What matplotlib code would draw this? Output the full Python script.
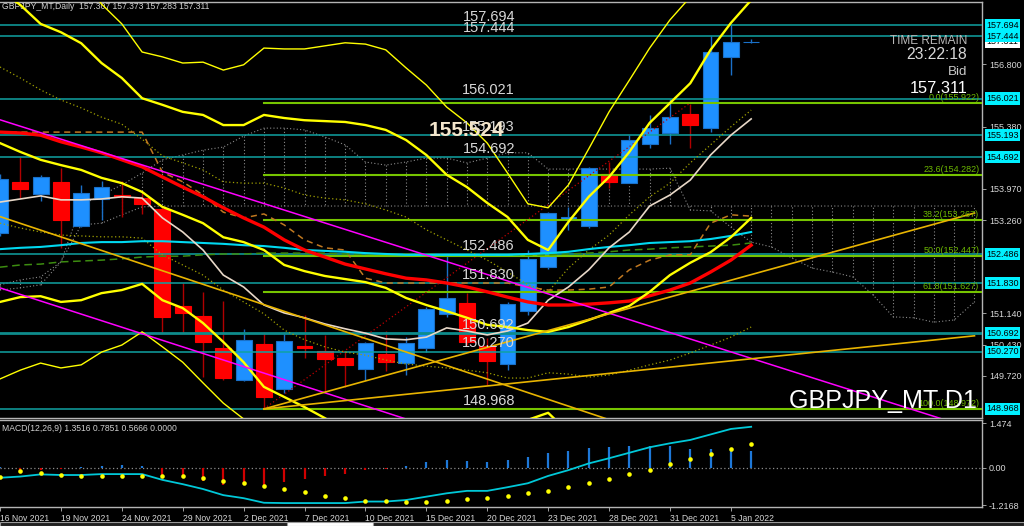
import matplotlib
matplotlib.use('Agg')
import matplotlib.pyplot as plt
from matplotlib import font_manager
from matplotlib.patches import Rectangle
import numpy as np

names = {f.name for f in font_manager.fontManager.ttflist}
HAS_NARROW = 'Liberation Sans Narrow' in names
NARROW = 'Liberation Sans Narrow' if HAS_NARROW else 'Liberation Sans'
SANS = 'Liberation Sans'
K = 1.0 if HAS_NARROW else 0.84   # shrink wide font to keep text widths

# daily bars, 16 Nov 2021 .. 6 Jan 2022
bar_dates = ['16 Nov', '17 Nov', '18 Nov', '19 Nov', '22 Nov', '23 Nov', '24 Nov', '25 Nov',
             '26 Nov', '29 Nov', '30 Nov', '1 Dec', '2 Dec', '3 Dec', '6 Dec', '7 Dec', '8 Dec',
             '9 Dec', '10 Dec', '13 Dec', '14 Dec', '15 Dec', '16 Dec', '17 Dec', '20 Dec',
             '21 Dec', '22 Dec', '23 Dec', '24 Dec', '27 Dec', '28 Dec', '29 Dec', '30 Dec',
             '31 Dec', '3 Jan', '4 Jan', '5 Jan', '6 Jan']
opens = [152.97, 154.13, 153.85, 154.13, 153.13, 153.74, 153.83, 153.76, 153.51, 151.31,
         151.08, 150.35, 149.63, 150.44, 149.42, 150.40, 150.29, 150.13, 149.88, 150.22,
         150.01, 150.35, 151.13, 151.38, 150.40, 149.99, 151.19, 152.19, 153.29, 153.13,
         154.31, 154.10, 154.99, 155.24, 155.67, 155.35, 156.97, 157.307]
highs = [154.30, 154.692, 154.29, 154.44, 154.06, 154.15, 154.15, 153.88, 153.56, 151.83,
         151.63, 151.42, 150.79, 150.72, 150.72, 151.10, 150.65, 150.29, 150.49, 150.74,
         150.60, 151.29, 152.486, 151.60, 150.58, 151.40, 152.58, 153.44, 153.56, 154.47,
         154.58, 155.193, 155.65, 156.021, 155.90, 157.444, 157.694, 157.373]
lows = [152.90, 153.76, 153.69, 152.63, 153.10, 153.26, 153.33, 153.40, 150.69, 150.692,
        149.69, 149.63, 149.60, 148.968, 149.33, 150.13, 149.35, 149.47, 149.63, 149.83,
        149.74, 150.270, 151.06, 150.42, 149.51, 149.85, 151.10, 152.15, 153.04, 153.08,
        153.99, 154.10, 154.90, 154.99, 154.90, 155.26, 156.56, 157.283]
closes = [154.19, 153.97, 154.24, 153.26, 153.88, 154.01, 153.79, 153.63, 151.06, 151.15,
          150.49, 149.67, 150.54, 149.24, 150.51, 150.35, 150.10, 149.97, 150.47, 150.04,
          150.47, 151.24, 151.49, 150.49, 150.06, 151.35, 152.38, 153.42, 153.33, 154.44,
          154.13, 155.08, 155.35, 155.60, 155.42, 157.08, 157.31, 157.311]

# indicator lines (one value per bar)
bb_up_thin = [158.83, 158.17, 157.72, 157.08, 156.97, 156.83, 156.85, 156.67, 156.79, 157.17,
              157.15, 157.15, 157.22, 157.29, 157.26, 157.13, 156.72, 156.33, 155.83, 155.47,
              155.01, 154.33, 153.63, 153.54, 154.06, 154.88, 155.72, 156.44, 157.17, 157.81,
              158.33, 159.0, 159.6, 160.2]   # from 22 Nov
bb_up = [158.49, 158.15, 157.72, 157.53, 157.28, 156.83, 156.49, 156.03, 155.88, 155.72,
         155.65, 155.42, 155.42, 155.65, 155.58, 155.53, 155.51, 155.49, 155.42, 155.31,
         155.08, 154.74, 154.29, 154.01, 153.65, 153.33, 152.81, 152.58, 153.22, 153.79,
         154.24, 154.81, 155.47, 155.92, 156.37, 157.13, 157.74, 158.26]
bb_mid = [155.01, 154.81, 154.63, 154.51, 154.40, 154.22, 154.10, 153.90, 153.56, 153.38,
          153.19, 152.87, 152.76, 152.58, 152.24, 152.10, 151.99, 151.92, 151.85, 151.72,
          151.49, 151.33, 151.19, 151.04, 150.88, 150.83, 150.76, 150.72, 150.83, 150.99,
          151.15, 151.31, 151.63, 152.01, 152.29, 152.53, 152.87, 153.31]
bb_low = [151.40, 151.51, 151.53, 151.40, 151.44, 151.60, 151.67, 151.81, 151.44, 151.26,
          150.92, 150.49, 150.03, 149.47, 149.24, 149.01, 148.76, 148.49, 148.35, 148.26,
          148.03, 147.92, 148.10, 148.15, 148.26, 148.44, 148.72, 148.88, 148.44, 148.22,
          148.03, 147.81, 147.81, 148.15, 148.15, 147.92, 147.99, 148.35]
bb_low_thin = [149.65, 149.85, 150.01, 149.90, 149.97, 150.26, 150.42, 150.72, 150.38, 150.03,
               149.56, 149.10, 148.74, 148.26, 147.90]
ma_red = [155.26, 155.24, 155.19, 155.04, 154.92, 154.79, 154.63, 154.47, 154.24, 154.01,
          153.79, 153.54, 153.31, 153.10, 152.81, 152.58, 152.42, 152.26, 152.15, 152.04,
          151.94, 151.90, 151.83, 151.74, 151.63, 151.51, 151.40, 151.33, 151.33, 151.35,
          151.38, 151.42, 151.54, 151.67, 151.83, 152.08, 152.35, 152.69]
ma_white = [153.67, 153.74, 153.81, 153.72, 153.72, 153.74, 153.79, 153.76, 153.31, 152.99,
            152.58, 152.01, 151.74, 151.33, 151.15, 151.04, 150.90, 150.79, 150.69, 150.56,
            150.54, 150.60, 150.81, 150.74, 150.65, 150.74, 150.92, 151.44, 151.74, 152.13,
            152.63, 152.99, 153.58, 153.83, 154.17, 154.74, 155.19, 155.56]
ma_cyan = [152.60, 152.63, 152.65, 152.69, 152.74, 152.76, 152.76, 152.78, 152.78, 152.76,
           152.74, 152.72, 152.69, 152.67, 152.63, 152.58, 152.56, 152.54, 152.51, 152.49,
           152.47, 152.47, 152.47, 152.47, 152.47, 152.47, 152.49, 152.51, 152.54, 152.60,
           152.65, 152.69, 152.74, 152.76, 152.78, 152.83, 152.90, 152.99]
ma_green = [152.19, 152.24, 152.26, 152.31, 152.33, 152.35, 152.38, 152.42, 152.44, 152.44,
            152.47, 152.49, 152.49, 152.51, 152.51, 152.51, 152.51, 152.49, 152.49, 152.49,
            152.49, 152.49, 152.47, 152.47, 152.47, 152.47, 152.47, 152.47, 152.49, 152.51,
            152.54, 152.58, 152.60, 152.63, 152.65, 152.67, 152.69, 152.74]
env_up = [156.74, 156.49, 156.22, 155.99, 155.81, 155.60, 155.44, 155.10, 154.72, 154.56,
          154.40, 154.13, 154.10, 154.10, 153.99, 153.83, 153.76, 153.72, 153.63, 153.49,
          153.33, 153.04, 152.81, 152.58, 152.35, 152.08, 151.79, 151.63, 152.17, 152.58,
          152.92, 153.38, 153.79, 154.10, 154.56, 154.97, 155.38, 155.76]
env_low = [153.19, 153.08, 152.99, 152.92, 152.90, 152.88, 152.88, 152.85, 152.47, 152.24,
           152.01, 151.67, 151.40, 151.13, 150.76, 150.54, 150.38, 150.26, 150.19, 150.08,
           149.99, 149.94, 149.90, 149.85, 149.79, 149.67, 149.67, 149.79, 149.76, 149.69,
           149.74, 149.85, 149.97, 150.08, 150.24, 150.42, 150.60, 150.83]
kijun = [155.26, 155.26, 155.26, 155.26, 155.26, 155.26, 155.26, 155.26, 154.35, 154.13,
         153.83, 153.44, 153.31, 153.40, 153.15, 152.81, 152.63, 152.58, 151.94, 151.83,
         151.83, 151.83, 151.83, 151.83, 151.83, 151.83, 151.74, 151.67, 151.67, 151.69,
         151.74, 152.13, 152.35, 152.47, 152.47, 153.19, 153.38, 153.35]
# ichimoku cloud (runs 11 bars past the last candle)
span_a = [151.79, 151.90, 151.97, 152.31, 153.60, 153.83, 154.06, 154.33, 154.63, 154.74,
          154.85, 154.92, 155.17, 155.35, 155.35, 155.31, 155.15, 154.97, 154.58, 154.51,
          154.58, 154.67, 154.67, 154.56, 154.67, 154.79, 154.79, 154.42, 154.42, 154.42,
          154.42, 154.42, 154.42, 154.44, 153.49, 153.47, 153.10, 152.76, 152.65, 152.40,
          152.17, 152.08, 151.97, 151.56, 151.06, 151.04, 150.94, 150.99, 151.40]
span_b = [151.67, 151.72, 151.79, 152.31, 153.15, 153.19, 153.38, 153.56] + [153.58] * 41

# MACD(12,26,9)
macd_main = [-0.32, -0.28, -0.21, -0.23, -0.23, -0.20, -0.20, -0.20, -0.39, -0.53, -0.69,
             -0.89, -0.99, -1.14, -1.15, -1.15, -1.15, -1.15, -1.10, -1.10, -1.05, -0.94,
             -0.83, -0.75, -0.75, -0.63, -0.50, -0.26, -0.07, 0.15, 0.32, 0.50, 0.68, 0.81,
             0.92, 1.10, 1.28, 1.3516]
macd_signal = [-0.30, -0.10, -0.17, -0.23, -0.25, -0.26, -0.25, -0.25, -0.25, -0.27, -0.34,
               -0.42, -0.48, -0.58, -0.69, -0.80, -0.92, -0.99, -1.07, -1.08, -1.10, -1.11,
               -1.07, -1.03, -0.97, -0.92, -0.83, -0.75, -0.62, -0.50, -0.35, -0.21, -0.07,
               0.13, 0.30, 0.47, 0.63, 0.7851]
macd_hist = [0.02, -0.16, -0.07, -0.03, 0.02, 0.06, 0.09, 0.06, -0.24, -0.33, -0.42, -0.55,
             -0.52, -0.57, -0.47, -0.35, -0.26, -0.19, -0.06, -0.03, 0.08, 0.19, 0.27, 0.24,
             0.20, 0.27, 0.36, 0.49, 0.57, 0.67, 0.69, 0.73, 0.73, 0.71, 0.62, 0.63, 0.65,
             0.5666]

# horizontal price lines, fibo levels, trendlines (bar index, price)
hline_prices = [157.694, 157.444, 156.021, 155.193, 154.692, 152.486, 151.830, 150.692,
                150.270, 148.968]
axis_prices = [156.800, 155.380, 153.970, 153.260, 151.140, 150.430, 149.720]
fib_levels = [155.922, 154.282, 153.267, 152.447, 151.627, 148.972]
fib_names = ['0.0', '23.6', '38.2', '50.0', '61.8', '100.0']
trend_magenta = [([0, 49], [155.54, 148.36]), ([0, 21], [151.72, 148.59])]
trend_gold = [([0, 31], [153.34, 148.57]), ([13, 48], [148.968, 153.42]),
              ([13, 48], [148.968, 150.63])]
fib_base = ([13, 34], [148.972, 155.922])

date_ticks = list(range(0, 38, 3))
date_labels = [d + (' 2022' if 'Jan' in d else ' 2021') for d in bar_dates[::3]]

x = np.arange(len(bar_dates))
BG = 'black'
fig = plt.figure(figsize=(10.24, 5.26), dpi=100, facecolor=BG)
ax = fig.add_axes([0, 1 - 418 / 526, 982 / 1024, 416 / 526], facecolor=BG)
ax2 = fig.add_axes([0, 1 - 507 / 526, 982 / 1024, 87 / 526], facecolor=BG, sharex=ax)

ax.set_xlim(0.064, 48.37)
ax.set_ylim(148.762, 158.217)
ax2.set_ylim(-1.279, 1.574)

# ichimoku cloud
xc = np.arange(len(span_a))
cloud_kw = dict(color='#8a8a8a', lw=0.8, ls=(0, (1, 2)), zorder=1)
ax.plot(xc, span_a, **cloud_kw)
ax.plot(xc, span_b, **cloud_kw)
ax.vlines(xc, span_a, span_b, colors='#8a8a8a', lw=0.8, linestyles=(0, (1, 2)), zorder=1)

# candles
for i in x:
    o, h, l, c = opens[i], highs[i], lows[i], closes[i]
    up = c >= o
    body = '#1e90ff' if up else '#ff0000'
    wick = '#1a70c8' if up else '#b00000'
    ax.vlines(i, l, h, colors=wick, lw=1.0, zorder=2)
    ax.add_patch(Rectangle((i - 0.39, min(o, c)), 0.78, max(abs(c - o), 0.005),
                           facecolor=body, edgecolor=wick if up else body, lw=0.8, zorder=2.5))

# horizontal lines
for p in hline_prices:
    ax.axhline(p, color='#0e8c8c' if p == 150.692 else '#10a2a2',
               lw=2.0 if p == 150.692 else 1.1, zorder=3)
    ax.annotate(f'{p:.3f}', xy=(24.07, p), xytext=(0, 1), textcoords='offset points',
                ha='center', va='bottom', color='#d8d8d8', fontsize=12.4 * K, family=NARROW,
                zorder=7)

# fibonacci
for lv, nm in zip(fib_levels, fib_names):
    ax.plot([fib_base[0][0], 50], [lv, lv], color='#76c400', lw=1.5, zorder=3)
    ax.annotate(f'{nm}({lv:.3f})', xy=(1.0, lv), xycoords=('axes fraction', 'data'),
                xytext=(-2, 0.5), textcoords='offset points', ha='right', va='bottom',
                color='#6cb800', fontsize=6.5, family=SANS, zorder=7)
ax.plot(fib_base[0], fib_base[1], color='#c00000', lw=0.9, ls=(0, (1, 2)), zorder=3)

# indicators
ax.plot(x, env_up, color='#a0a000', lw=0.9, ls=(0, (1, 2)), zorder=4)
ax.plot(x, env_low, color='#a0a000', lw=0.9, ls=(0, (1, 2)), zorder=4)
ax.plot(x, kijun, color='#c07820', lw=1.1, ls=(0, (4, 3)), zorder=4)
ax.plot(x, ma_green, color='#3c8c10', lw=1.1, ls=(0, (5, 3)), zorder=4)
ax.plot(x, ma_cyan, color='#00d8f0', lw=1.5, zorder=4)
ax.plot(x, ma_white, color='#e8d8c8', lw=1.2, zorder=4)
ax.plot(x, ma_red, color='#ff0000', lw=2.4, zorder=4)
ax.plot(np.arange(4, 38), bb_up_thin, color='#ffff00', lw=1.0, zorder=4)
ax.plot(np.arange(len(bb_low_thin)), bb_low_thin, color='#ffff00', lw=1.0, zorder=4)
ax.plot(x, bb_up, color='#ffff00', lw=1.7, zorder=4)
ax.plot(x, bb_mid, color='#ffff00', lw=1.7, zorder=4)
ax.plot(x, bb_low, color='#ffff00', lw=1.7, zorder=4)
for xs, ys in trend_magenta:
    ax.plot(xs, ys, color='#ff00ff', lw=1.1, zorder=4)
for xs, ys in trend_gold:
    ax.plot(xs, ys, color='#e8b400', lw=1.2, zorder=4)

# texts
ax.text(22.99, 155.30, '155.524', color='#f4e6cc', fontsize=15, fontweight='bold',
        family=SANS, ha='center', va='center', zorder=8)
ax.text(0.002, 0.988, 'GBPJPY_MT,Daily  157.307 157.373 157.283 157.311', transform=ax.transAxes,
        color='#d0d0d0', fontsize=6.2, family=SANS, ha='left', va='center')
ax.text(0.985, 0.906, 'TIME REMAIN', transform=ax.transAxes, color='#b8b8b8',
        fontsize=11 * K * 0.92, family=NARROW, ha='right', va='center')
ax.text(0.985, 0.873, '23:22:18', transform=ax.transAxes, color='#d8d8d8',
        fontsize=13.5 * K, family=NARROW, ha='right', va='center')
ax.text(0.985, 0.832, 'Bid', transform=ax.transAxes, color='#c8c8c8', fontsize=11.5 * K,
        family=NARROW, ha='right', va='center')
ax.text(0.985, 0.793, '157.311', transform=ax.transAxes, color='#ffffff', fontsize=14 * K,
        family=NARROW, ha='right', va='center')
ax.text(0.995, 0.041, 'GBPJPY_MT D1', transform=ax.transAxes, color='#ffffff',
        fontsize=21.5 * K, family=NARROW, ha='right', va='center', zorder=8)

# right price scale
ax.yaxis.tick_right()
ax.set_yticks(axis_prices)
ax.set_yticklabels([f'{p:.3f}' for p in axis_prices])
ax.tick_params(axis='y', colors='#a0a0a0', labelcolor='#d8d8d8', labelsize=6.5, length=3,
               width=0.7, pad=2)
for lab in ax.get_yticklabels():
    lab.set_family(SANS)
box_kw = dict(xycoords=('axes fraction', 'data'), xytext=(3, 0), textcoords='offset points',
              ha='left', va='center', fontsize=6.5, family=SANS, annotation_clip=False)
ax.annotate('157.311', xy=(1.0, 157.311), color='black',
            bbox=dict(boxstyle='square,pad=0.18', fc='white', ec='none'), **box_kw)
for p in hline_prices:
    ax.annotate(f'{p:.3f}', xy=(1.0, p), color='black',
                bbox=dict(boxstyle='square,pad=0.18', fc='#00f0ff', ec='none'), **box_kw)
ax.tick_params(axis='x', bottom=False, labelbottom=False)

# MACD panel
ax2.axhline(0, color='#8c8c8c', lw=0.9, ls=(0, (1, 2)))
ax2.vlines(x, 0, macd_hist, colors=['#1e78d8' if h > 0 else '#d00000' for h in macd_hist],
           lw=1.6)
ax2.plot(x, macd_main, color='#00c8d8', lw=1.3)
ax2.plot(x, macd_signal, 'o', color='#ffff00', ms=3.3, mec='none')
ax2.text(0.002, 0.905, 'MACD(12,26,9) 1.3516 0.7851 0.5666 0.0000', transform=ax2.transAxes,
         color='#d0d0d0', fontsize=6.2, family=SANS, ha='left', va='center')
ax2.yaxis.tick_right()
ax2.set_yticks([1.474, 0.0, -1.2168])
ax2.set_yticklabels(['1.474', '0.00', '-1.2168'])
ax2.tick_params(axis='y', colors='#a0a0a0', labelcolor='#d8d8d8', labelsize=6.5, length=3,
                width=0.7, pad=2)
ax2.set_xticks(date_ticks)
ax2.set_xticklabels(date_labels, ha='left')
ax2.tick_params(axis='x', colors='#a0a0a0', labelcolor='#d8d8d8', labelsize=6.2, length=3,
                width=0.7, pad=2)
for lab in ax2.get_xticklabels() + ax2.get_yticklabels():
    lab.set_family(SANS)

for a in (ax, ax2):
    a.spines['left'].set_visible(False)
    for s in ('top', 'right', 'bottom'):
        a.spines[s].set_color('#b4b4b4')
        a.spines[s].set_linewidth(1.0)

# bottom tab strip
fig.add_artist(Rectangle((0, 0), 1, 4 / 526, transform=fig.transFigure, facecolor='#202020',
                         edgecolor='#9a9a9a', lw=0.8))
fig.add_artist(Rectangle((287 / 1024, 0), 86 / 1024, 4 / 526, transform=fig.transFigure,
                         facecolor='white', edgecolor='#9a9a9a', lw=0.8))

fig.savefig('out.png', dpi=100, facecolor=BG)
